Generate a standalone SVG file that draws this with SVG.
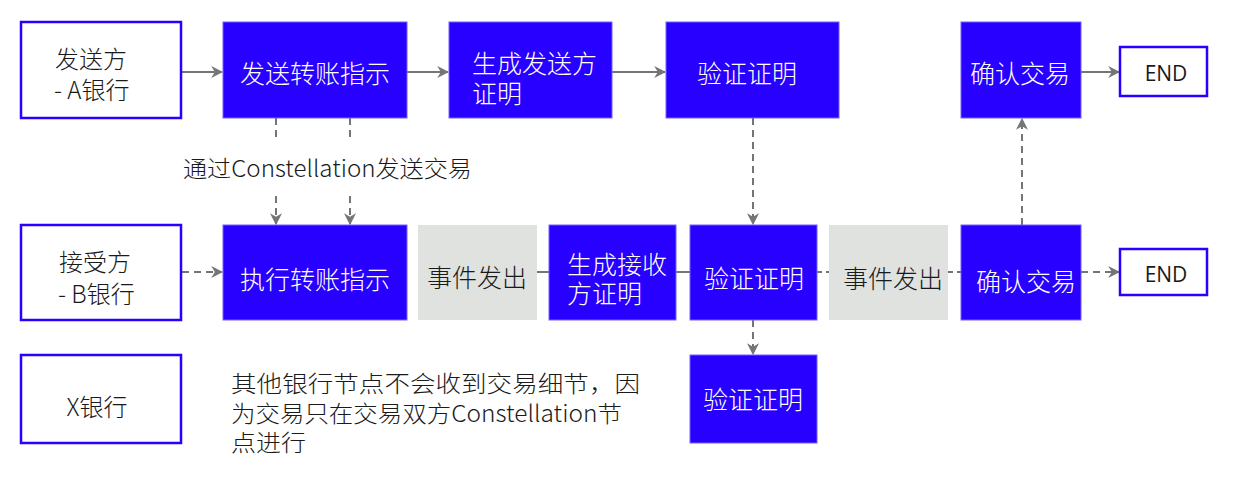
<svg xmlns="http://www.w3.org/2000/svg" width="1248" height="479" viewBox="0 0 1248 479">
  <style>
    text { font-family: "Noto Sans CJK SC", "Liberation Sans", sans-serif; font-weight: 300; dominant-baseline: central; }
    .box-blue { fill: #2800ff; stroke: #6f63ff; stroke-width: 1; }
    .box-white { fill: #ffffff; stroke: #2800ff; stroke-width: 2.5; }
    .box-gray { fill: #e0e2e0; }
    .t-white { fill: #ffffff; font-size: 25px; }
    .t-black { fill: #1a1a1a; font-size: 24px; }
    .t-end { fill: #1a1a1a; font-size: 21px; font-weight: 400; font-family: "Open Sans", "Liberation Sans", sans-serif; }
    .t-note { fill: #1a1a1a; font-size: 23px; }
    .conn { stroke: #757575; stroke-width: 2; fill: none; }
    .dash { stroke-dasharray: 7 5; }
  </style>
  <defs>
    <marker id="arrow" viewBox="0 0 10 10" refX="9" refY="5" markerWidth="6" markerHeight="6" orient="auto" markerUnits="strokeWidth">
      <path d="M0,0 L10,5 L0,10 L3,5 z" fill="#757575"/>
    </marker>
  </defs>

  <rect width="1248" height="479" fill="#ffffff"/>

  <!-- connectors -->
  <g id="connectors">
    <!-- top row, solid -->
    <line class="conn" x1="182" y1="72" x2="222" y2="72" marker-end="url(#arrow)"/>
    <line class="conn" x1="407" y1="72" x2="448" y2="72" marker-end="url(#arrow)"/>
    <line class="conn" x1="612" y1="72" x2="665" y2="72" marker-end="url(#arrow)"/>
    <line class="conn" x1="1081" y1="72" x2="1119" y2="72" marker-end="url(#arrow)"/>
    <!-- send via Constellation -->
    <line class="conn dash" x1="276" y1="118" x2="276" y2="138"/>
    <line class="conn dash" x1="350" y1="118" x2="350" y2="138"/>
    <line class="conn dash" x1="276" y1="196" x2="276" y2="224" marker-end="url(#arrow)"/>
    <line class="conn dash" x1="350" y1="196" x2="350" y2="224" marker-end="url(#arrow)"/>
    <!-- verification links -->
    <line class="conn dash" x1="753" y1="118" x2="753" y2="224" marker-end="url(#arrow)"/>
    <line class="conn dash" x1="1022" y1="225" x2="1022" y2="119" marker-end="url(#arrow)"/>
    <line class="conn dash" x1="753" y1="320" x2="753" y2="354" marker-end="url(#arrow)"/>
    <!-- middle row -->
    <line class="conn dash" x1="182" y1="272" x2="222" y2="272" marker-end="url(#arrow)"/>
    <line class="conn" x1="537" y1="272" x2="549" y2="272"/>
    <line class="conn" x1="676" y1="272" x2="690" y2="272"/>
    <line class="conn" x1="817" y1="272" x2="829" y2="272" stroke-dasharray="5 4"/>
    <line class="conn" x1="948" y1="272" x2="961" y2="272" stroke-dasharray="5 4"/>
    <line class="conn dash" x1="1081" y1="272" x2="1119" y2="272" marker-end="url(#arrow)"/>
  </g>

  <!-- top row: sender side -->
  <g id="sender-bank">
    <rect class="box-white" x="21" y="22" width="160" height="96"/>
    <text class="t-black"><tspan x="55" y="57">发送方</tspan><tspan x="54" y="88">- A银行</tspan></text>
  </g>
  <g id="send-instruction">
    <rect class="box-blue" x="223" y="22" width="184" height="96"/>
    <text class="t-white" x="315" y="72" text-anchor="middle">发送转账指示</text>
  </g>
  <g id="sender-proof">
    <rect class="box-blue" x="449" y="22" width="163" height="96"/>
    <text class="t-white"><tspan x="472" y="62">生成发送方</tspan><tspan x="472" y="92">证明</tspan></text>
  </g>
  <g id="verify-top">
    <rect class="box-blue" x="666" y="22" width="173" height="96"/>
    <text class="t-white" x="747" y="72" text-anchor="middle">验证证明</text>
  </g>
  <g id="confirm-top">
    <rect class="box-blue" x="961" y="22" width="120" height="96"/>
    <text class="t-white" x="1020" y="72" text-anchor="middle">确认交易</text>
  </g>
  <g id="end-top">
    <rect class="box-white" x="1120" y="47" width="87" height="49"/>
    <text class="t-end" x="1166" y="73" text-anchor="middle">END</text>
  </g>

  <!-- label between rows -->
  <g id="via-constellation">
    <text class="t-note" x="183" y="167" textLength="289" lengthAdjust="spacingAndGlyphs">通过Constellation发送交易</text>
  </g>

  <!-- middle row: receiver side -->
  <g id="receiver-bank">
    <rect class="box-white" x="21" y="225" width="160" height="95"/>
    <text class="t-black"><tspan x="59" y="260">接受方</tspan><tspan x="58" y="292">- B银行</tspan></text>
  </g>
  <g id="execute-instruction">
    <rect class="box-blue" x="223" y="225" width="184" height="95"/>
    <text class="t-white" x="315" y="278" text-anchor="middle">执行转账指示</text>
  </g>
  <g id="event-1">
    <rect class="box-gray" x="418" y="225" width="119" height="95"/>
    <text class="t-black" x="477" y="276" text-anchor="middle" style="font-size:25px">事件发出</text>
  </g>
  <g id="receiver-proof">
    <rect class="box-blue" x="549" y="225" width="127" height="95"/>
    <text class="t-white"><tspan x="567" y="263">生成接收</tspan><tspan x="567" y="292">方证明</tspan></text>
  </g>
  <g id="verify-mid">
    <rect class="box-blue" x="690" y="225" width="127" height="95"/>
    <text class="t-white" x="754" y="277" text-anchor="middle">验证证明</text>
  </g>
  <g id="event-2">
    <rect class="box-gray" x="829" y="225" width="119" height="95"/>
    <text class="t-black" x="893" y="277" text-anchor="middle" style="font-size:25px">事件发出</text>
  </g>
  <g id="confirm-mid">
    <rect class="box-blue" x="961" y="225" width="120" height="95"/>
    <text class="t-white" x="1026" y="280" text-anchor="middle">确认交易</text>
  </g>
  <g id="end-mid">
    <rect class="box-white" x="1120" y="249" width="87" height="46"/>
    <text class="t-end" x="1166" y="274" text-anchor="middle">END</text>
  </g>

  <!-- bottom row: other bank -->
  <g id="other-bank">
    <rect class="box-white" x="21" y="355" width="160" height="88"/>
    <text class="t-black" x="97" y="405" text-anchor="middle">X银行</text>
  </g>
  <g id="note">
    <text class="t-note"><tspan x="231" y="382" textLength="409" lengthAdjust="spacingAndGlyphs">其他银行节点不会收到交易细节，因</tspan><tspan x="231" y="412" textLength="391" lengthAdjust="spacingAndGlyphs">为交易只在交易双方Constellation节</tspan><tspan x="231" y="441" textLength="75" lengthAdjust="spacingAndGlyphs">点进行</tspan></text>
  </g>
  <g id="verify-bottom">
    <rect class="box-blue" x="690" y="355" width="127" height="88"/>
    <text class="t-white" x="753" y="398" text-anchor="middle">验证证明</text>
  </g>
</svg>
